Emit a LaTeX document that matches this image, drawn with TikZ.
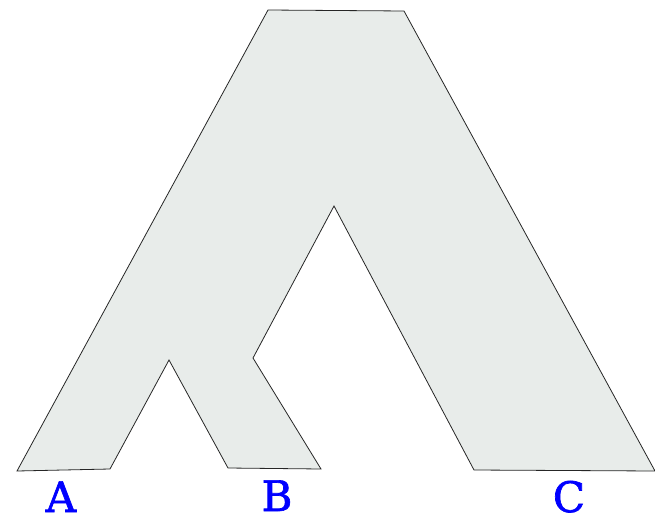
\documentclass[tikz,border=0pt]{standalone}
\usepackage{fontspec}
\newfontfamily\leaffont{DejaVu Serif}[BoldFont={DejaVu Serif},BoldFeatures={FakeBold=1.6}]
\definecolor{treefill}{HTML}{E8ECEA}
\begin{document}
\begin{tikzpicture}[x=1pt,y=-1pt,
  tree/.style={fill=treefill,draw=black!85,line width=0.8pt,line join=miter},
  leaf/.style={text=blue,font=\leaffont\bfseries\fontsize{42}{42}\selectfont,anchor=base,inner sep=0pt}]
\useasboundingbox (0,0) rectangle (655,519);
\draw[tree] (268,10) -- (404,11) -- (655,471) -- (474,470) -- (334,206) -- (253,358)
  -- (321,469) -- (228,468) -- (169,360) -- (110,469) -- (17,471) -- cycle;
\node[leaf] (A) at (61,512) {A};
\node[leaf] (B) at (277,511) {B};
\node[leaf] (C) at (569,512) {C};
\end{tikzpicture}
\end{document}
